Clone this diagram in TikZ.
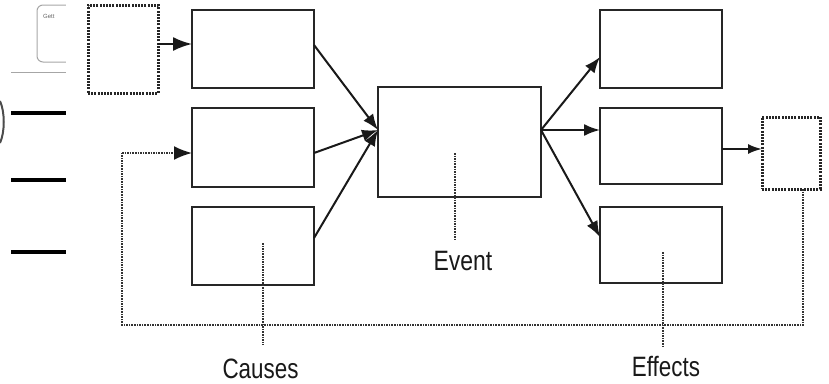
\documentclass[tikz,border=0pt]{standalone}
\usepackage{fontspec}
\setmainfont{Liberation Sans}
\usetikzlibrary{arrows.meta,calc}
\begin{document}
\begin{tikzpicture}[x=1pt,y=-1pt,
  box/.style={draw=black!85,line width=2.5pt,minimum width=122pt,minimum height=78pt,inner sep=0pt,outer sep=0pt},
  dotbox/.style={draw=black!85,line width=3pt,dash pattern=on 2pt off 1.2pt,inner sep=0pt,outer sep=0pt},
  arr/.style={line width=2pt,black!90,-{Latex[length=16pt,width=12pt]}},
  dotline/.style={draw=black!80,line width=2.2pt,dash pattern=on 1.6pt off 1pt},
  lab/.style={font=\fontsize{28}{28}\selectfont,inner sep=0pt,text=black!90},
  art/.style={line width=3.5pt,black}
]
\useasboundingbox (0,0) rectangle (829,383);
% screenshot leftovers on the left
\node[draw=black!35,line width=1pt,rounded corners=6pt,minimum width=50pt,minimum height=57pt,inner sep=0pt] (gbox) at (62,33.5) {};
\node[font=\fontsize{6}{6}\selectfont,text=black!60,anchor=north west,inner sep=0pt] (gtxt) at (43,14) {Gett};
\fill[white] (66,0) rectangle (829,383);
\coordinate (l0a) at (11,72); \coordinate (l0b) at (66,72);
\draw[line width=1pt,black!35] (l0a) -- (l0b);
\coordinate (l1a) at (11,113); \coordinate (l1b) at (66,113);
\coordinate (l2a) at (11,180); \coordinate (l2b) at (66,180);
\coordinate (l3a) at (11,252); \coordinate (l3b) at (66,252);
\draw[art] (l1a) -- (l1b);
\draw[art] (l2a) -- (l2b);
\draw[art] (l3a) -- (l3b);
\coordinate (pa) at (0,101);
\coordinate (pb) at (0,143);
\draw[line width=2pt,black!70] (pa) .. controls (5,112) and (5,132) .. (pb);

% nodes
\node[dotbox,minimum width=70pt,minimum height=88pt] (src) at (123,49) {};
\node[box] (c1) at (253,49) {};
\node[box,minimum height=79pt] (c2) at (253,147.5) {};
\node[box] (c3) at (253,246) {};
\node[box,minimum width=163pt,minimum height=110pt] (ev) at (459.5,142) {};
\node[box,minimum width=122pt] (e1) at (661,49) {};
\node[box,minimum height=76pt] (e2) at (661,146) {};
\node[box,minimum height=76pt] (e3) at (661,245) {};
\node[dotbox,minimum width=58pt,minimum height=72pt] (fb) at (791,153) {};

\coordinate (evin) at (378,130);
\coordinate (evout) at (541,130);

% arrows into causes
\draw[arr,-{Latex[length=19pt,width=14pt]}] (src.east |- 0,44) -- (c1.west |- 0,44);
\draw[arr] ($(c1.east)+(0,-4)$) -- (evin);
\draw[arr] ($(c2.east)+(0,5.5)$) -- (evin);
\draw[arr] ($(c3.east)+(0,-8)$) -- (evin);
% arrows to effects
\draw[arr] (evout) -- (e1.west |- 0,57);
\draw[arr] (evout) -- (e2.west |- 0,130);
\draw[arr] (evout) -- (e3.west |- 0,237);
\draw[arr,-{Latex[length=14pt,width=10pt]}] (e2.east |- 0,149) -- (fb.west |- 0,149);

% feedback loop
\coordinate (fb1) at (803,325);
\coordinate (fb2) at (122,325);
\coordinate (fb3) at (122,153);
\draw[dotline] (fb.south -| fb1) -- (fb1) -- (fb2) -- (fb3);
\draw[dotline] (fb3) -- ($(c2.west |- fb3)+(-16,0)$);
\draw[arr,-{Latex[length=18pt,width=14pt]}] ($(c2.west |- fb3)+(-17,0)$) -- (c2.west |- fb3);

% labels
\node[lab] (causes) at (260.5,369) {\scalebox{0.8}[1]{Causes}};
\node[lab] (event) at (463,261) {\scalebox{0.82}[1]{Event}};
\node[lab] (effects) at (666,366) {\scalebox{0.8}[1]{Effects}};
\coordinate (ca) at (263,243);
\coordinate (eva) at (455,153);
\coordinate (efa) at (663,252);
\draw[dotline] (ca) -- ($(ca |- causes.north)+(0,-14)$);
\draw[dotline] (eva) -- ($(eva |- event.north)+(0,-10)$);
\draw[dotline] (efa) -- ($(efa |- effects.north)+(0,-8)$);
\end{tikzpicture}
\end{document}
